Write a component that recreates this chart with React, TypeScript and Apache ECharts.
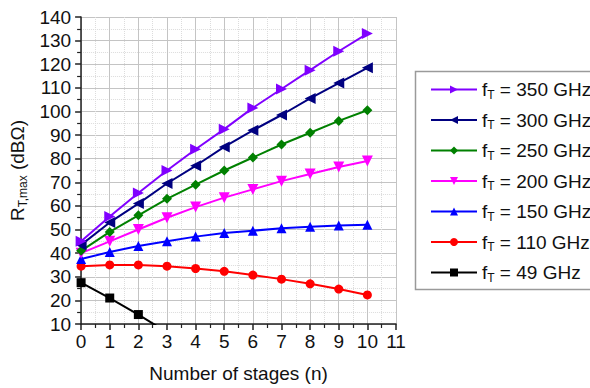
import React, { useEffect, useRef } from "react";
import * as echarts from "echarts";

const stages = [0, 1, 2, 3, 4, 5, 6, 7, 8, 9, 10];
const f350 = [45, 55.5, 65.5, 75, 84, 92.5, 101.5, 109.5, 117.5, 125.5, 133];
const f300 = [43.5, 53, 61, 69.5, 77, 85, 92, 98.5, 105.5, 112, 118.5];
const f250 = [41, 49, 56, 63, 69, 75, 80.5, 86, 91, 96, 100.5];
const f200 = [40, 45, 50, 55, 59.5, 63.5, 67, 70.5, 73.5, 76.5, 79];
const f150 = [37.5, 40.5, 43, 45, 47, 48.5, 49.5, 50.5, 51.2, 51.7, 52];
const f110 = [34.5, 35, 35, 34.5, 33.5, 32.3, 30.7, 29, 27, 24.8, 22.3];
const f49 = [27.5, 21, 14, 6.5];

const seriesNames = ["350 GHz", "300 GHz", "250 GHz", "200 GHz", "150 GHz", "110 GHz", "49 GHz"];
const seriesValues = [f350, f300, f250, f200, f150, f110, f49];
const seriesColors = ["#8000ff", "#000080", "#008000", "#ff00ff", "#0000ff", "#ff0000", "#000000"];
const seriesSymbols = ["triangle", "triangle", "diamond", "triangle", "triangle", "circle", "rect"];
const seriesRotate = [-90, 90, 0, 180, 0, 0, 0];
const seriesSizes = [11, 11, 10, 11, 10, 9, 9];

export default function App() {
  const ref = useRef<HTMLDivElement>(null);
  useEffect(() => {
    document.body.style.margin = "0";
    const chart = echarts.init(ref.current!, null, { renderer: "svg" });
    const font = "Liberation Sans, Arial, sans-serif";
    const series = seriesNames.map((name, i) => ({
      name,
      type: "line",
      data: seriesValues[i].map((v, j) => [stages[j], v]),
      symbol: seriesSymbols[i],
      symbolRotate: seriesRotate[i],
      symbolSize: seriesSizes[i],
      clip: true,
      lineStyle: { color: seriesColors[i], width: 2 },
      itemStyle: { color: seriesColors[i] },
      z: 10 - i,
    }));
    const rich = {
      a: { fontSize: 19, lineHeight: 22, fontFamily: font, color: "#111" },
      s: { fontSize: 12, lineHeight: 6, verticalAlign: "bottom", fontFamily: font, color: "#111" },
    };
    chart.setOption({
      animation: false,
      textStyle: { fontFamily: font },
      grid: { left: 81, right: 194, top: 17, bottom: 63, containLabel: false },
      graphic: [
        {
          type: "rect",
          shape: { x: 415.5, y: 71.5, width: 200, height: 218 },
          style: { fill: "#fff", stroke: "#9a9a9a", lineWidth: 1.5 },
          z: 0,
        },
      ],
      legend: {
        orient: "vertical",
        left: 425,
        top: 75,
        itemWidth: 46,
        itemHeight: 10,
        itemGap: 10,
        data: seriesNames,
        formatter: (name: string) => `{a|f}{s|T}{a| = ${name}}`,
        textStyle: { fontFamily: font, color: "#111", rich },
      },
      xAxis: {
        type: "value",
        min: 0,
        max: 11,
        interval: 1,
        name: "Number of stages (n)",
        nameLocation: "middle",
        nameGap: 40,
        nameTextStyle: { fontSize: 19, color: "#111", fontFamily: font },
        axisLine: { show: true, onZero: false, lineStyle: { color: "#222", width: 1.5 } },
        axisTick: { show: true, inside: false, length: 6, lineStyle: { color: "#222", width: 1.5 } },
        minorTick: { show: true, splitNumber: 2, length: 4, lineStyle: { color: "#222", width: 1.2 } },
        axisLabel: { fontSize: 19, color: "#111", margin: 8, fontFamily: font },
        splitLine: { show: true, lineStyle: { color: "#c4c4c4", width: 1 } },
        minorSplitLine: { show: true, lineStyle: { color: "#dcdcdc", width: 1, type: "dotted" } },
      },
      yAxis: {
        type: "value",
        min: 10,
        max: 140,
        interval: 10,
        name: "{a|R}{s|T,max}{a| (dBΩ)}",
        nameLocation: "middle",
        nameRotate: 90,
        nameGap: 50,
        nameTextStyle: { fontFamily: font, color: "#111", rich },
        axisLine: { show: true, lineStyle: { color: "#222", width: 1.5 } },
        axisTick: { show: true, inside: false, length: 6, lineStyle: { color: "#222", width: 1.5 } },
        minorTick: { show: true, splitNumber: 2, length: 4, lineStyle: { color: "#222", width: 1.2 } },
        axisLabel: { fontSize: 19, color: "#111", margin: 10, fontFamily: font },
        splitLine: { show: true, lineStyle: { color: "#c4c4c4", width: 1 } },
        minorSplitLine: { show: true, lineStyle: { color: "#dcdcdc", width: 1, type: "dotted" } },
      },
      series,
    });
    return () => chart.dispose();
  }, []);
  return <div ref={ref} style={{ position: "absolute", left: 0, top: 0, width: 590, height: 388 }} />;
}
